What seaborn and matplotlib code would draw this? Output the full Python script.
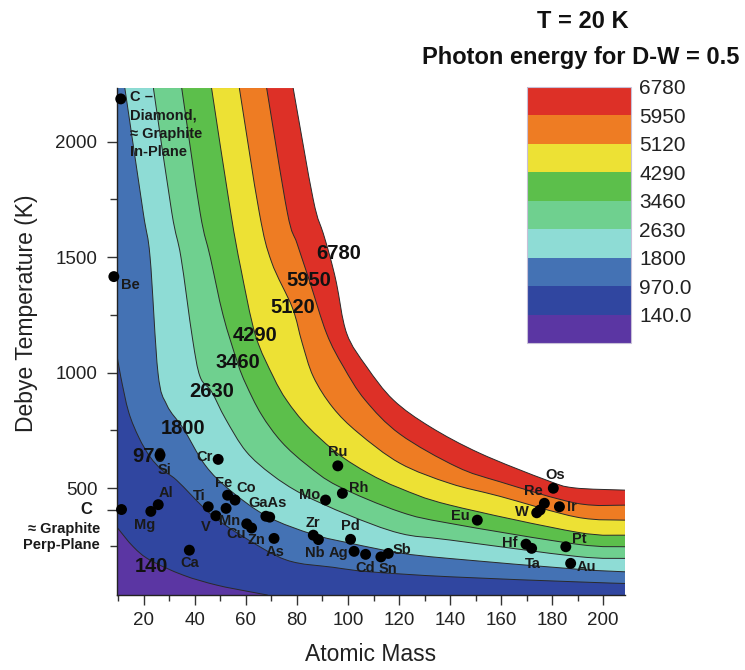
import numpy as np
import matplotlib
matplotlib.use("Agg")
import matplotlib.pyplot as plt
from matplotlib.colors import ListedColormap, BoundaryNorm
from matplotlib.cm import ScalarMappable
from matplotlib.ticker import MultipleLocator
from matplotlib.path import Path
from matplotlib.patches import PathPatch
import seaborn as sns

# Contour levels (photon energy) and band colours, lowest band first
levels = [140, 970, 1800, 2630, 3460, 4290, 5120, 5950, 6780]
level_labels = ["140.0", "970.0", "1800", "2630", "3460", "4290", "5120", "5950", "6780"]
band_colors = ["#5b36a3", "#3046a0", "#4472b4", "#8edcd5", "#6fd08f",
               "#5cbf4b", "#ede134", "#ee7c23", "#dd3027"]

# Contour lines: atomic mass / Debye temperature (K)
c140_m = [9.3, 15.8, 22.4, 35.4, 48.5, 61.6, 68.5]
c140_t = [333, 247, 189, 124, 81, 52, 38]
c970_m = [9.3, 10.9, 14, 18, 22.4, 27, 32.8, 45.9, 59, 76, 94.2, 108.6, 140, 189.7, 208.6]
c970_t = [1085, 983, 830, 720, 636, 580, 535, 391, 290, 189, 158, 138.5, 117, 95, 88]
c1800_m = [12.5, 19.7, 22.4, 25.5, 29, 35.4, 44, 53.7, 68.5, 86.4, 101, 120.4, 140, 189.7, 208.6]
c1800_t = [2232, 1694, 1500, 1000, 860, 759, 600, 492, 377, 300, 262, 220, 196, 150, 138.5]
c2630_m = [23.7, 30.9, 34.5, 39, 42, 46.5, 52, 60, 70, 82, 100, 120.4, 140, 189.7, 208.6]
c2630_t = [2232, 1694, 1500, 1150, 983, 918, 800, 660, 560, 475, 385, 305, 276, 205, 196.5]
c3460_m = [34.8, 42, 46, 51, 56.7, 60, 66, 74, 84, 96, 120.4, 140, 189.7, 208.6]
c3460_t = [2232, 1694, 1500, 1250, 1043, 950, 820, 700, 600, 510, 398, 348, 258, 247]
c4290_m = [46.5, 54, 58, 63.7, 70.7, 76, 84, 96, 108, 120.4, 140, 189.7, 208.6]
c4290_t = [2232, 1694, 1450, 1163, 983, 880, 770, 650, 565, 500, 427, 310, 297]
c5120_m = [57.4, 65.2, 70, 78.2, 82, 86.4, 94, 104, 120.4, 140, 159.6, 189.7, 208.6]
c5120_t = [2232, 1694, 1480, 1281, 1130, 983, 850, 740, 608, 521, 465, 375, 362]
c5950_m = [68.1, 76.2, 80, 84.8, 91.6, 98.2, 106.7, 120.4, 142.6, 159.6, 189.7, 208.6]
c5950_t = [2232, 1694, 1560, 1401, 1170, 1026, 882, 734, 593, 528, 435, 427]
c6780_m = [78.5, 86.4, 90.3, 93, 95.5, 99.5, 107.3, 117.8, 132.2, 151.8, 177.9, 188.5, 208.6]
c6780_t = [2232, 1748, 1603, 1500, 1387, 1170, 1026, 882, 766, 651, 535, 502, 492]

# Contour value labels and where they sit
clabel_text = ["6780", "5950", "5120", "4290", "3460", "2630", "1800", "970", "140"]
clabel_m = [96.2, 84.8, 78.2, 63.7, 56.7, 46.5, 35.4, 21.9, 23.0]
clabel_t = [1517, 1401, 1281, 1163, 1043, 918, 759, 636, 160]

# Elements (dots), as placed in the picture
dot_m = [10.9, 8.2, 26.3, 49.1, 96.0, 97.8, 91.2, 52.8, 55.7, 45.2, 52.2, 48.2, 25.6,
         22.7, 11.2, 67.8, 69.3, 60.3, 62.2, 71.0, 37.8, 86.4, 88.4, 101.0, 102.4,
         106.9, 112.9, 115.8, 150.7, 180.5, 177.0, 174.0, 175.3, 182.9, 169.8, 172.0,
         185.4, 187.3]
dot_t = [2185, 1416, 644, 625, 597, 478, 449, 470, 449, 420, 413, 381, 429,
         400, 408, 379, 375, 346, 328, 283, 232, 297, 278, 279, 227,
         214, 203, 218, 362, 500, 435, 394, 406, 420, 258, 240,
         247, 175]

el_text = ["Be", "Si", "Cr", "Ru", "Rh", "Mo", "Fe", "Co", "Ti", "Mn", "V", "Al", "Mg",
           "GaAs", "Cu", "Zn", "As", "Ca", "Zr", "Nb", "Pd", "Ag", "Cd", "Sn", "Sb",
           "Eu", "Os", "Re", "W", "Ir", "Hf", "Ta", "Pt", "Au"]
el_m = [14.8, 28.2, 43.9, 96.0, 104.0, 85.1, 51.4, 60.0, 41.7, 53.7, 44.3, 28.5, 20.4,
        68.5, 56.0, 64.2, 71.4, 37.8, 86.4, 87.1, 101.0, 96.2, 106.9, 115.8, 121.0,
        144.2, 181.2, 172.7, 168.1, 187.7, 163.5, 172.3, 190.7, 193.6]
el_t = [1380, 579, 634, 658, 500, 471, 521, 500, 466, 360, 333, 478, 341,
        435, 300, 276, 225, 175, 348, 218, 336, 218, 153, 149, 232,
        380, 557, 488, 398, 420, 264, 172, 279, 160]

c_perp_t = 408

XMIN, XMAX = 9.3, 208.6
YMIN, YMAX = 38, 2232


def smooth_path(ms, ts):
    # cubic Bezier path through the read points (Catmull-Rom tangents)
    p = np.column_stack([ms, ts]).astype(float)
    verts, codes = [p[0]], [Path.MOVETO]
    n = len(p)
    for i in range(n - 1):
        p0 = p[i - 1] if i > 0 else p[i]
        p3 = p[i + 2] if i + 2 < n else p[i + 1]
        verts += [p[i] + (p[i + 1] - p0) / 6, p[i + 1] - (p3 - p[i]) / 6, p[i + 1]]
        codes += [Path.CURVE4] * 3
    return verts, codes


sns.set_theme(style="ticks")
plt.rcParams["font.family"] = ["Liberation Sans", "DejaVu Sans"]
TXT = "#1a1a1a"

fig = plt.figure(figsize=(7.45, 6.7), dpi=100)
ax = fig.add_axes([0.1566, 0.1119, 0.6823, 0.7567])
ax.set_xlim(XMIN, XMAX)
ax.set_ylim(YMIN, YMAX)

# Filled regions: each colour fills everything below its upper contour,
# painted from the highest level down
curves = [(c140_m, c140_t), (c970_m, c970_t), (c1800_m, c1800_t), (c2630_m, c2630_t),
          (c3460_m, c3460_t), (c4290_m, c4290_t), (c5120_m, c5120_t),
          (c5950_m, c5950_t), (c6780_m, c6780_t)]
for k in range(len(curves) - 1, -1, -1):
    cm, ct = curves[k]
    verts, codes = smooth_path(cm, ct)
    verts += [(cm[-1], YMIN), (XMIN, YMIN), (XMIN, ct[0]), verts[0]]
    codes += [Path.LINETO, Path.LINETO, Path.LINETO, Path.CLOSEPOLY]
    ax.add_patch(PathPatch(Path(verts, codes), facecolor=band_colors[k],
                           edgecolor="none", zorder=1))
for cm, ct in curves:
    verts, codes = smooth_path(cm, ct)
    ax.add_patch(PathPatch(Path(verts, codes), facecolor="none",
                           edgecolor="#2a2a2a", lw=0.7, zorder=2))

for txt, m, t in zip(clabel_text, clabel_m, clabel_t):
    ax.text(m, t, txt, ha="center", va="center", fontsize=14.5,
            fontweight="bold", color="#111111", zorder=3)

# Element dots and labels
sns.scatterplot(x=dot_m, y=dot_t, ax=ax, color="black", s=62,
                edgecolor="none", zorder=5, legend=False)
for coll in ax.collections:
    coll.set_clip_on(False)
for txt, m, t in zip(el_text, el_m, el_t):
    ax.text(m, t, txt, ha="center", va="center", fontsize=10.5,
            fontweight="bold", color=TXT, zorder=6)
ax.text(14.5, 2224, "C \u2013\nDiamond,\n\u2248 Graphite\nIn-Plane", ha="left", va="top",
        fontsize=10.5, fontweight="bold", color=TXT, linespacing=1.4, zorder=6)

# Axes, ticks, labels
ax.set_xticks(range(20, 201, 20))
ax.xaxis.set_minor_locator(MultipleLocator(10))
ax.set_yticks([500, 1000, 1500, 2000, c_perp_t])
ax.set_yticklabels(["500", "1000", "1500", "2000", ""])
ax.yaxis.set_minor_locator(MultipleLocator(250))
ax.tick_params(axis="both", which="major", direction="out", width=1,
               color="#333333", labelsize=13.5, labelcolor="#222222")
ax.tick_params(axis="x", which="major", length=7, pad=5)
ax.tick_params(axis="y", which="major", length=7, pad=7)
ax.tick_params(axis="x", which="minor", direction="out", length=4, width=1, color="#333333")
ax.tick_params(axis="y", which="minor", direction="out", length=5, width=1, color="#333333")

yax = ax.get_yaxis_transform()
ax.text(-0.0486, c_perp_t, "C", transform=yax, ha="right", va="center",
        fontsize=12, fontweight="bold", color=TXT)
ax.text(-0.0325, 289, "\u2248 Graphite\nPerp-Plane", transform=yax,
        ha="right", va="center", fontsize=10.5, fontweight="bold", color=TXT,
        linespacing=1.15)

sns.despine(ax=ax)
for side in ["left", "bottom"]:
    ax.spines[side].set_color("#222222")
    ax.spines[side].set_linewidth(1)
ax.set_xlabel("Atomic Mass", fontsize=16.5, color="#222222")
ax.set_ylabel("Debye Temperature (K)", fontsize=16.5, color="#222222")
ax.xaxis.set_label_coords(0.5, -0.095)
ax.yaxis.set_label_coords(-0.155, 0.556)

# Colour key
cax = fig.add_axes([0.7074, 0.4881, 0.1396, 0.3821])
bounds = [levels[0] - 830] + levels
norm = BoundaryNorm(bounds, len(band_colors))
sm = ScalarMappable(norm=norm, cmap=ListedColormap(band_colors))
cb = fig.colorbar(sm, cax=cax, ticks=levels, spacing="uniform")
cb.set_ticklabels(level_labels)
cb.outline.set_edgecolor("#c8c0d8")
cb.outline.set_linewidth(0.8)
cax.minorticks_off()
cax.tick_params(which="both", length=0, labelsize=15, pad=6, labelcolor="#222222")

fig.text(0.7826, 0.968, "T = 20 K", ha="center", va="center", fontsize=17,
         fontweight="bold", color="#111111")
fig.text(0.7792, 0.914, "Photon energy for D-W = 0.5", ha="center", va="center",
         fontsize=17, fontweight="bold", color="#111111")

fig.savefig("out.png", dpi=100)
